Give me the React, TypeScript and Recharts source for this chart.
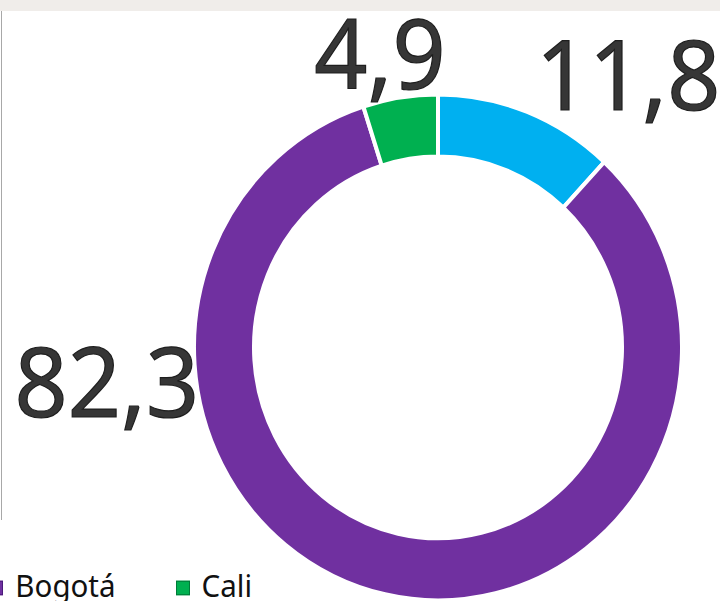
import React from "react"
import { PieChart, Pie, Cell, Legend } from "recharts"

const CITIES = ["Medellín", "Bogotá", "Cali"]
const SHARES = [11.8, 82.3, 4.9]
const COLORS = ["#00B0F0", "#7030A0", "#00B050"]
const BORDERS = ["#0090c8", "#4a1a7a", "#007a38"]

// where Excel's "best fit" put each data label: angle clockwise from 12 o'clock, distance in outer radii
const LABEL_SPOTS = [
  { angle: 39.7, k: 1.22 },
  { angle: 258.5, k: 1.385 },
  { angle: -13.1, k: 1.05 },
]

const data = CITIES.map((name, i) => ({ name, value: SHARES[i] }))

const FONT = "'Noto Sans', 'Open Sans', sans-serif"
const STRETCH = 1.037 // the source screenshot is a bit taller than wide

function fmt(v: number) {
  return v.toFixed(1).replace(".", ",")
}

function renderLabel(props: any) {
  const { cx, cy, outerRadius, index, value } = props
  const spot = LABEL_SPOTS[index]
  const rad = (spot.angle * Math.PI) / 180
  const x = cx + Math.sin(rad) * outerRadius * spot.k
  const y = cy - Math.cos(rad) * outerRadius * spot.k
  return (
    <text
      x={x}
      y={y}
      textAnchor="middle"
      fill="#363636"
      stroke="#1e1e1e"
      strokeWidth={1.2}
      fontSize={93}
      fontFamily={FONT}
    >
      {fmt(value)}
    </text>
  )
}

function LegendRow({ payload }: any) {
  const items = [...(payload || [])].sort((a: any, b: any) => CITIES.indexOf(a.value) - CITIES.indexOf(b.value))
  // the first entry sits entirely left of the cropped frame, so only the rest is laid out
  const shown = items.slice(1)
  return (
    <div
      style={{
        display: "flex",
        justifyContent: "flex-end",
        alignItems: "center",
        whiteSpace: "nowrap",
        width: 252,
        height: 30,
        fontFamily: FONT,
        fontSize: 29.5,
        lineHeight: "30px",
        color: "#111",
      }}
    >
      {shown.map((p: any, i: number) => {
        const ci = CITIES.indexOf(p.value)
        return (
          <div key={p.value} style={{ display: "flex", alignItems: "center", marginLeft: i === 0 ? 0 : 60, flexShrink: 0 }}>
            <span
              style={{
                display: "inline-block",
                width: 12,
                height: 12,
                marginTop: 4,
                background: COLORS[ci],
                border: `1px solid ${BORDERS[ci]}`,
                marginRight: 12,
              }}
            />
            <span>{p.value}</span>
          </div>
        )
      })}
    </div>
  )
}

export default function App() {
  return (
    <div style={{ position: "relative", width: 720, height: 601, overflow: "hidden", background: "#fff" }}>
      <style>{"body{margin:0}"}</style>
      <div style={{ position: "absolute", left: 0, top: 0, width: 720, height: 11, background: "#F0EDEA" }} />
      <div style={{ position: "absolute", left: 1, top: 11, width: 1, height: 509, background: "#a8a8a8" }} />
      <div style={{ position: "absolute", left: 0, top: 0, transform: `scaleY(${STRETCH})`, transformOrigin: "0 0" }}>
        <PieChart width={720} height={580} margin={{ top: 0, right: 0, bottom: 0, left: 0 }}>
          <Pie
            data={data}
            dataKey="value"
            nameKey="name"
            cx={438}
            cy={335}
            innerRadius={184}
            outerRadius={244}
            startAngle={90}
            endAngle={-270}
            stroke="#fff"
            strokeWidth={4}
            label={renderLabel}
            labelLine={false}
            isAnimationActive={false}
          >
            {data.map((d, i) => (
              <Cell key={d.name} fill={COLORS[i]} />
            ))}
          </Pie>
          <Legend content={LegendRow} wrapperStyle={{ left: 0, top: 550, width: 252, height: 30 }} />
        </PieChart>
      </div>
    </div>
  )
}
